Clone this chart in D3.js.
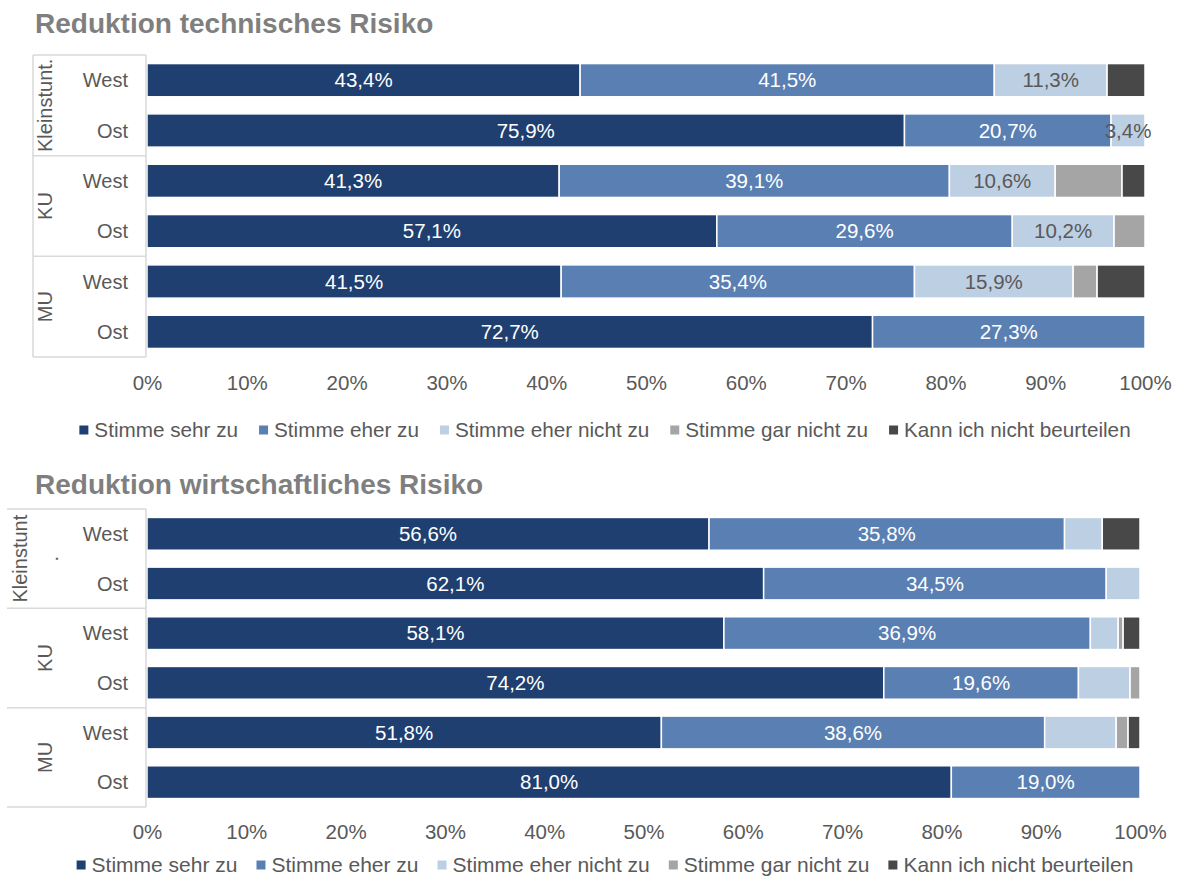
<!DOCTYPE html>
<html><head><meta charset="utf-8">
<script src="https://cdn.jsdelivr.net/npm/d3@7"></script>
<style>body{margin:0;background:#fff}svg{display:block;font-family:"Liberation Sans",Arial,sans-serif}</style>
</head><body><svg id="c" width="1181" height="877"></svg>
<script>
const seriesNames = ["Stimme sehr zu","Stimme eher zu","Stimme eher nicht zu","Stimme gar nicht zu","Kann ich nicht beurteilen"];
const seriesColors = ["#1f3f70","#5a7fb3","#bdcfe2","#a5a5a5","#484848"];
const groups = ["Kleinstunt.","KU","MU"];
const groups2 = [["Kleinstunt","."],["KU"],["MU"]];
const regions = ["West","Ost"];
const xTicks = [0,10,20,30,40,50,60,70,80,90,100];
// Reduktion technisches Risiko (rows: Kleinstunt. West/Ost, KU West/Ost, MU West/Ost)
const tech_sehr   = [43.4,75.9,41.3,57.1,41.5,72.7];
const tech_eher   = [41.5,20.7,39.1,29.6,35.4,27.3];
const tech_ehernicht = [11.3,3.4,10.6,10.2,15.9,0];
const tech_gar    = [0,0,6.7,3.1,2.4,0];
const tech_kann   = [3.8,0,2.3,0,4.8,0];
// Reduktion wirtschaftliches Risiko
const wirt_sehr   = [56.6,62.1,58.1,74.2,51.8,81.0];
const wirt_eher   = [35.8,34.5,36.9,19.6,38.6,19.0];
const wirt_ehernicht = [3.8,3.4,2.8,5.2,7.2,0];
const wirt_gar    = [0,0,0.5,1.0,1.2,0];
const wirt_kann   = [3.8,0,1.7,0,1.2,0];

const svg = d3.select("#c");
const fmt = v => v.toFixed(1).replace(".", ",") + "%";
const FS = 20.5;

function drawChart(cfg){
  const g = svg.append("g");
  g.append("text").attr("x",35).attr("y",cfg.titleY).text(cfg.title)
    .attr("font-size",28).attr("font-weight","bold").attr("fill","#7f7f7f");
  const x = d3.scaleLinear().domain([0,100]).range([cfg.x0,cfg.x1]);
  const rows = [];
  groups.forEach((gr,gi)=>regions.forEach((r,ri)=>rows.push(gi*2+ri)));
  const y = d3.scaleBand().domain(rows).range([cfg.top,cfg.bottom]).paddingInner(0.34).paddingOuter(0.17);
  const stackData = rows.map(i=>{const o={i}; cfg.series.forEach((s,k)=>o[k]=s[i]); return o;});
  const stack = d3.stack().keys([0,1,2,3,4])(stackData);
  stack.forEach((layer,k)=>{
    const lg = g.append("g");
    layer.forEach(d=>{
      const v = d[1]-d[0];
      if(v<=0) return;
      lg.append("rect").attr("x",x(d[0])).attr("y",y(d.data.i)).attr("width",x(d[1])-x(d[0]))
        .attr("height",y.bandwidth()).attr("fill",seriesColors[k]).attr("stroke","#fff").attr("stroke-width",1.5);
    });
  });
  stack.forEach((layer,k)=>{
    if(!cfg.labelSeries.includes(k)) return;
    layer.forEach(d=>{
      const v = d[1]-d[0];
      if(v<=0) return;
      g.append("text").attr("x",(x(d[0])+x(d[1]))/2).attr("y",y(d.data.i)+y.bandwidth()/2)
        .attr("dy","0.35em").attr("text-anchor","middle").attr("font-size",FS)
        .attr("fill",k<2?"#ffffff":"#595959").text(fmt(v));
    });
  });
  // category box
  const lc = "#d9d9d9";
  const step = (cfg.bottom-cfg.top)/3;
  for(let k=0;k<=3;k++){
    g.append("line").attr("x1",cfg.boxLeft).attr("x2",cfg.x0-1).attr("y1",cfg.top+k*step).attr("y2",cfg.top+k*step)
      .attr("stroke",lc).attr("stroke-width",1.5);
  }
  if(cfg.leftLine) g.append("line").attr("x1",cfg.boxLeft).attr("x2",cfg.boxLeft).attr("y1",cfg.top).attr("y2",cfg.bottom).attr("stroke",lc).attr("stroke-width",1.5);
  g.append("line").attr("x1",cfg.x0-1).attr("x2",cfg.x0-1).attr("y1",cfg.top).attr("y2",cfg.bottom).attr("stroke",lc).attr("stroke-width",1.5);
  rows.forEach(i=>{
    g.append("text").attr("x",128).attr("y",y(i)+y.bandwidth()/2).attr("dy","0.35em")
      .attr("text-anchor","end").attr("font-size",20).attr("fill","#595959").text(regions[i%2]);
  });
  cfg.groupLabels.forEach((lines,gi)=>{
    const cy = cfg.top+step*(gi+0.5);
    lines.forEach((ln,li)=>{
      const cx = lines.length>1 ? cfg.groupX2[li] : 45;
      g.append("text").attr("transform",`translate(${cx},${cy}) rotate(-90)`).attr("dy","0.35em")
        .attr("text-anchor","middle").attr("font-size",20).attr("fill","#595959").text(ln);
    });
  });
  // x axis labels
  const ax = g.append("g").attr("transform",`translate(0,${cfg.tickY})`)
    .call(d3.axisBottom(x).tickValues(xTicks).tickFormat(d=>d+"%").tickSize(0).tickPadding(0));
  ax.select(".domain").remove();
  ax.selectAll("text").attr("dy","0.35em").attr("y",0).attr("font-size",FS).attr("fill","#595959")
    .attr("font-family","Liberation Sans, Arial, sans-serif");
  // legend
  const leg = g.append("g");
  let cur = 0;
  seriesNames.forEach((n,k)=>{
    leg.append("rect").attr("x",cur).attr("y",-4.5).attr("width",9).attr("height",9).attr("fill",seriesColors[k]);
    const t = leg.append("text").attr("x",cur+15).attr("y",0).attr("dy","0.35em").attr("font-size",cfg.legSize).attr("fill","#595959").text(n);
    cur += 15 + t.node().getComputedTextLength() + cfg.legGap;
  });
  const w = cur - cfg.legGap;
  leg.attr("transform",`translate(${cfg.legCenter - w/2},${cfg.legY})`);
}

drawChart({title:"Reduktion technisches Risiko",titleY:33,x0:147,x1:1145,top:55,bottom:357,
  series:[tech_sehr,tech_eher,tech_ehernicht,tech_gar,tech_kann],labelSeries:[0,1,2],
  boxLeft:33,leftLine:true,groupLabels:[[groups[0]],[groups[1]],[groups[2]]],groupX2:[20,51],
  tickY:383,legY:430,legSize:20.7,legGap:21,legCenter:605});
drawChart({title:"Reduktion wirtschaftliches Risiko",titleY:494,x0:147,x1:1140,top:509,bottom:807,
  series:[wirt_sehr,wirt_eher,wirt_ehernicht,wirt_gar,wirt_kann],labelSeries:[0,1],
  boxLeft:7,leftLine:false,groupLabels:groups2,groupX2:[20,51],
  tickY:832,legY:865,legSize:21,legGap:19,legCenter:605});
</script></body></html>
